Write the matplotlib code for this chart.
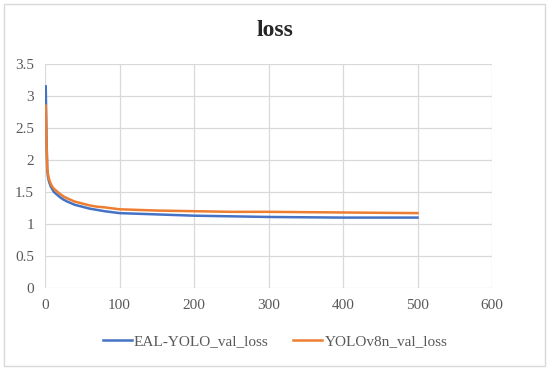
import matplotlib.pyplot as plt
from matplotlib.patches import Rectangle

# values
epochs = [1, 2, 3, 4, 5, 6, 8, 10, 12, 15, 20, 25, 30, 40, 50, 60, 70, 80, 100,
          125, 150, 200, 250, 300, 350, 400, 450, 500]
eal_yolo_loss = [3.15, 2.35, 1.85, 1.74, 1.68, 1.64, 1.58, 1.54, 1.50, 1.47, 1.42,
                 1.38, 1.35, 1.30, 1.27, 1.24, 1.22, 1.20, 1.17,
                 1.16, 1.15, 1.13, 1.12, 1.11, 1.105, 1.10, 1.10, 1.10]
yolov8n_loss = [2.85, 2.30, 1.88, 1.78, 1.72, 1.68, 1.62, 1.58, 1.55, 1.52, 1.47,
                1.43, 1.40, 1.35, 1.32, 1.29, 1.27, 1.26, 1.23,
                1.22, 1.21, 1.20, 1.19, 1.19, 1.185, 1.18, 1.175, 1.17]
x_ticks = [0, 100, 200, 300, 400, 500, 600]
y_ticks = [0, 0.5, 1, 1.5, 2, 2.5, 3, 3.5]
y_tick_labels = ['0', '0.5', '1', '1.5', '2', '2.5', '3', '3.5']

plt.rcParams['font.family'] = ['Liberation Serif', 'DejaVu Serif']

fig = plt.figure(figsize=(5.5, 3.7), dpi=100)
ax = fig.add_axes([45 / 550, 1 - 288 / 370, (492 - 45) / 550, (288 - 64) / 370])

ax.plot(epochs, eal_yolo_loss, color='#4472C4', lw=1.8, label='EAL-YOLO_val_loss')
ax.plot(epochs, yolov8n_loss, color='#ED7D31', lw=1.8, label='YOLOv8n_val_loss')

ax.set_xlim(0, 600)
ax.set_ylim(0, 3.5)
ax.set_xticks(x_ticks)
ax.set_yticks(y_ticks)
ax.set_yticklabels(y_tick_labels)
ax.grid(True, color='#D9D9D9', lw=0.9)
ax.set_axisbelow(True)
for s in ax.spines.values():
    s.set_visible(False)
ax.tick_params(length=0, labelsize=11, labelcolor='#595959', pad=8)

fig.text(0.5, 1 - 30 / 370, 'loss', ha='center', va='center',
         fontsize=17, fontweight='bold', color='#262626')

fig.legend(loc='center', bbox_to_anchor=(0.5, 1 - 341 / 370), ncol=2, frameon=False,
           fontsize=11, labelcolor='#595959', handlelength=1.9, columnspacing=1.6,
           handletextpad=0.15)

fig.patches.append(Rectangle((4 / 550, 4 / 370), 541 / 550, 362 / 370,
                             transform=fig.transFigure, fill=False,
                             edgecolor='#D9D9D9', lw=1))

fig.savefig('out.png', dpi=100)
